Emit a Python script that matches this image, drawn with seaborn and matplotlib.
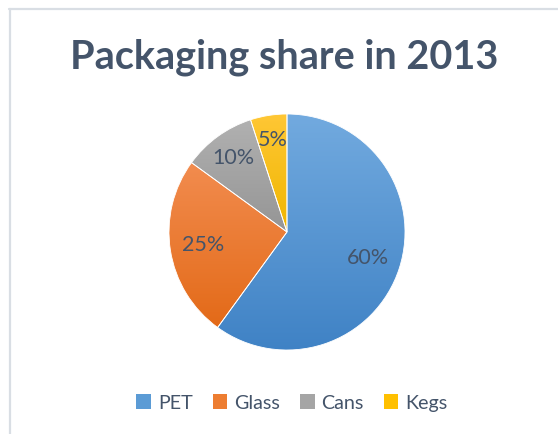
import numpy as np
import matplotlib
matplotlib.use("Agg")
import matplotlib.pyplot as plt
import seaborn as sns
from matplotlib.patches import Patch
from matplotlib.lines import Line2D
from matplotlib.colors import LinearSegmentedColormap

categories = ["PET", "Glass", "Cans", "Kegs"]
shares = [60, 25, 10, 5]
labels = ["60%", "25%", "10%", "5%"]
title = "Packaging share in 2013"

base_colors = ["#5B9BD5", "#ED7D31", "#A5A5A5", "#FFC000"]
top_colors = ["#72AADF", "#F28C4F", "#B1B1B1", "#FFC735"]
bot_colors = ["#3F82C5", "#E36A18", "#959595", "#EFB600"]
label_dist = [0.72, 0.72, 0.77, 0.79]
text_color = "#44546A"

sns.set_theme(style="white")
plt.rcParams["font.family"] = ["Lato", "DejaVu Sans"]

W, H, DPI = 558, 434, 100
fig = plt.figure(figsize=(W / DPI, H / DPI), dpi=DPI)
fig.patch.set_facecolor("white")

# frame lines (top and left edges of the chart border)
fig.add_artist(Line2D([9 / W, 1.0], [1 - 8.5 / H, 1 - 8.5 / H], color="#D9DEE4",
                      lw=1.6, transform=fig.transFigure))
fig.add_artist(Line2D([9.5 / W, 9.5 / W], [0, 1 - 8.5 / H], color="#D9DEE4",
                      lw=1.6, transform=fig.transFigure))

cx, cy, r = 287, 232, 118
ax = fig.add_axes([(cx - r) / W, (H - cy - r) / H, 2 * r / W, 2 * r / H])
ax.set_xlim(-1, 1)
ax.set_ylim(-1, 1)
ax.set_aspect("equal")
ax.axis("off")

wedges, _ = ax.pie(shares, colors=base_colors, startangle=90, counterclock=False,
                   radius=1, wedgeprops=dict(edgecolor="white", linewidth=0.6))

for w, tc, bc in zip(wedges, top_colors, bot_colors):
    path = w.get_path()
    verts = path.vertices
    y0, y1 = verts[:, 1].min(), verts[:, 1].max()
    x0, x1 = verts[:, 0].min(), verts[:, 0].max()
    cmap = LinearSegmentedColormap.from_list("g", [bc, tc])
    grad = np.linspace(0, 1, 256).reshape(-1, 1)
    im = ax.imshow(grad, cmap=cmap, origin="lower", extent=[x0, x1, y0, y1],
                   aspect="auto", zorder=w.get_zorder() + 0.1, interpolation="bicubic")
    im.set_clip_path(w)
    w.set_zorder(w.get_zorder() + 0.2)
    w.set_facecolor("none")

ax.set_xlim(-1, 1)
ax.set_ylim(-1, 1)

for w, lab, d in zip(wedges, labels, label_dist):
    ang = np.deg2rad((w.theta1 + w.theta2) / 2)
    ax.text(d * np.cos(ang), d * np.sin(ang), lab, ha="center", va="center",
            fontsize=15.5, color=text_color, zorder=10)

fig.text(284 / W, 1 - 68 / H, title, ha="center", va="baseline", fontsize=28.5,
         fontweight="bold", color=text_color)

handles = [Patch(facecolor=c, edgecolor="none") for c in base_colors]
fig.legend(handles, categories, loc="center", bbox_to_anchor=(292 / W, 1 - 403 / H),
           ncol=4, frameon=False, fontsize=14.2, handlelength=0.75, handleheight=0.75,
           handletextpad=0.35, columnspacing=1.0, labelcolor=text_color)

fig.savefig("out.png", dpi=DPI, facecolor="white")
